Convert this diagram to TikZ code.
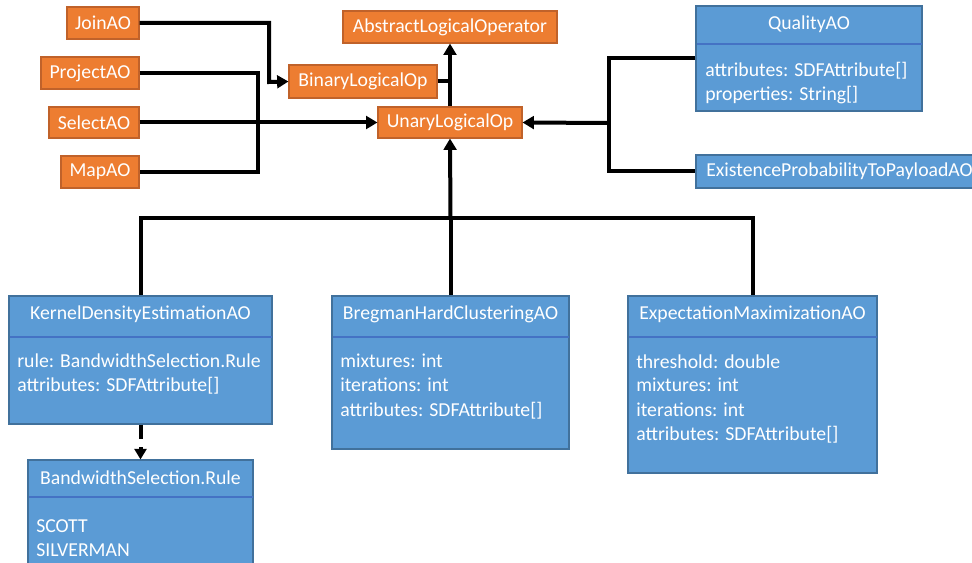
\documentclass[tikz,border=0pt]{standalone}
\usepackage{fontspec}
\setmainfont{Carlito}
\usetikzlibrary{arrows.meta,fit}
\definecolor{opfill}{HTML}{ED7D31}
\definecolor{opline}{HTML}{C0622A}
\definecolor{clsfill}{HTML}{5B9BD5}
\definecolor{clsline}{HTML}{41719C}
\definecolor{clssep}{HTML}{4472C4}
\tikzset{
  opbox/.style={fill=opfill, draw=opline, line width=0.8pt, inner sep=0pt,
    text=white, font=\fontsize{14.8}{18}\selectfont},
  clsbox/.style={fill=clsfill, draw=clsline, line width=0.8pt, inner sep=0pt},
  clstitle/.style={text=white, font=\fontsize{14.8}{18}\selectfont, inner sep=0pt, anchor=base},
  clsattr/.style={text=white, font=\fontsize{14.8}{18}\selectfont, inner sep=0pt,
    anchor=base west, align=left},
  sepline/.style={draw=clssep, line width=1.2pt},
  conn/.style={draw=black, line width=3pt},
  arr/.style={conn, -{Triangle[length=8.5pt,width=9.5pt]}},
  dasharr/.style={conn, dash pattern=on 11pt off 6pt, -{Triangle[length=8pt,width=9pt]}},
}
\begin{document}
\begin{tikzpicture}[x=0.75pt, y=-0.75pt]
\useasboundingbox (0,0) rectangle (972,563);

% ---- operator boxes (orange), placed by centre, sizes in pt ----
\node[opbox, minimum width=54pt, minimum height=24pt] (join) at (103,23) {JoinAO};
\node[opbox, minimum width=73.5pt, minimum height=24pt] (project) at (90,73) {ProjectAO};
\node[opbox, minimum width=67.5pt, minimum height=23.25pt] (select) at (94,122.5) {SelectAO};
\node[opbox, minimum width=58.5pt, minimum height=24pt] (map) at (100,172) {MapAO};
\node[opbox, minimum width=111pt, minimum height=24.75pt] (binary) at (363,81.5) {BinaryLogicalOp};
\node[opbox, minimum width=160.5pt, minimum height=24pt] (abstract) at (450,27) {AbstractLogicalOperator};
\node[opbox, minimum width=108pt, minimum height=23.25pt] (unary) at (450,122.5) {UnaryLogicalOp};

% ---- class boxes (blue) ----
\foreach \nm/\xa/\ya/\xb/\yb in {quality/696/6/922/111, existence/696/155/990/188,
    kde/9/296/272/424, bregman/332/296/569/449, em/628/296/877/473,
    bws/28/460/253/575}{
  \coordinate (\nm-nw) at (\xa,\ya);
  \coordinate (\nm-se) at (\xb,\yb);
}
\node[clsbox, fit=(quality-nw)(quality-se)] (quality) {};
\node[clsbox, fit=(existence-nw)(existence-se)] (existence) {};
\node[clsbox, fit=(kde-nw)(kde-se)] (kde) {};
\node[clsbox, fit=(bregman-nw)(bregman-se)] (bregman) {};
\node[clsbox, fit=(em-nw)(em-se)] (em) {};
\node[clsbox, fit=(bws-nw)(bws-se)] (bws) {};

% compartment separators
\draw[sepline] (696.5,44) -- (921.5,44);
\draw[sepline] (9.5,337) -- (271.5,337);
\draw[sepline] (332.5,337) -- (568.5,337);
\draw[sepline] (628.5,337) -- (876.5,337);
\draw[sepline] (28.5,497) -- (252.5,497);

% class names
\node[clstitle] (quality-t) at (809,30) {QualityAO};
\node[clsattr] (existence-t) at (706,177) {ExistenceProbabilityToPayloadAO};
\node[clstitle] (kde-t) at (140.5,320) {KernelDensityEstimationAO};
\node[clstitle] (bregman-t) at (450.5,320) {BregmanHardClusteringAO};
\node[clstitle] (em-t) at (752.5,320) {ExpectationMaximizationAO};
\node[clstitle] (bws-t) at (140.5,484) {BandwidthSelection.Rule};

% attributes (node base = baseline of the last line)
\node[clsattr] (quality-a) at (705,101) {attributes: SDFAttribute[]\\properties: String[]};
\node[clsattr] (kde-a) at (17,392) {rule: BandwidthSelection.Rule\\attributes: SDFAttribute[]};
\node[clsattr] (bregman-a) at (340,416) {mixtures: int\\iterations: int\\attributes: SDFAttribute[]};
\node[clsattr] (em-a) at (636,440) {threshold: double\\mixtures: int\\iterations: int\\attributes: SDFAttribute[]};
\node[clsattr] (bws-a) at (36,556) {SCOTT\\SILVERMAN};

% ---- connectors ----
\coordinate (jbend) at (269,82);
\coordinate (pmbus) at (258,123);
\coordinate (rbus) at (609,123);
\coordinate (bbus) at (450.5,218);

\draw[arr] (join.east) -| (jbend) -- (binary.west);
\draw[arr] (unary.north) -- (abstract.south);
\draw[conn] (binary.east) -- (binary.east -| unary.north);
\draw[arr] (select.east) -- (unary.west);
\draw[conn] (project.east) -| (pmbus) |- (map.east);

\draw[conn] (quality.west) -| (rbus) |- (existence.west);
\draw[arr] (rbus) -- (unary.east);

\draw[arr] (bbus) -- (unary.south);
\draw[conn] (kde.north) |- (em.north |- bbus) -- (em.north);
\draw[conn] (bregman.north) -- (bregman.north |- bbus);

\draw[dasharr] (kde.south) -- (bws.north);
\end{tikzpicture}
\end{document}
